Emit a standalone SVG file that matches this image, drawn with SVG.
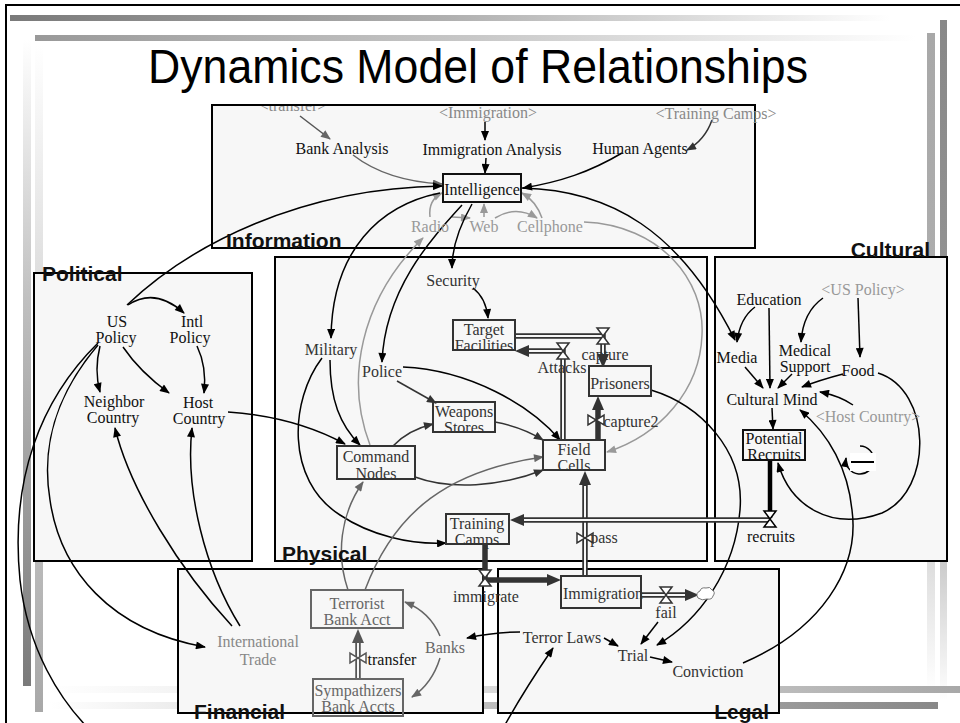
<svg xmlns="http://www.w3.org/2000/svg" width="960" height="723" viewBox="0 0 960 723">
<defs>
<style>
.sec{fill:#f7f7f7;stroke:#000;stroke-width:2}
.lab{font-family:"Liberation Sans",Arial,sans-serif;font-weight:bold;font-size:21px;fill:#111}
.t{font-family:"Liberation Serif","Times New Roman",serif;font-size:16px;text-anchor:middle;fill:#111}
.td{fill:#333}
.tg{fill:#888}
.tl{fill:#999}
.tm{fill:#666}
.box{fill:#f7f7f7;stroke:#111;stroke-width:2}
.boxd{fill:#f7f7f7;stroke:#333;stroke-width:2}
.boxg{fill:#f7f7f7;stroke:#666;stroke-width:2}
.c{fill:none;stroke:#000;stroke-width:1.5;marker-end:url(#ab)}
.cd{fill:none;stroke:#333;stroke-width:1.5;marker-end:url(#ad)}
.cg{fill:none;stroke:#666;stroke-width:1.5;marker-end:url(#ag)}
.cl{fill:none;stroke:#999;stroke-width:1.5;marker-end:url(#al)}
.po{fill:none;stroke:#333;stroke-width:5.5;stroke-linejoin:miter}
.pi{fill:none;stroke:#f7f7f7;stroke-width:2}
.valve{fill:#fff;stroke:#333;stroke-width:1.5;stroke-linejoin:miter}
</style>
<marker id="ab" viewBox="0 0 10 8" refX="9" refY="4" markerWidth="11" markerHeight="8" orient="auto" markerUnits="userSpaceOnUse"><path d="M0,0 L10,4 L0,8 z" fill="#000"/></marker>
<marker id="ad" viewBox="0 0 10 8" refX="9" refY="4" markerWidth="11" markerHeight="8" orient="auto" markerUnits="userSpaceOnUse"><path d="M0,0 L10,4 L0,8 z" fill="#333"/></marker>
<marker id="ag" viewBox="0 0 10 8" refX="9" refY="4" markerWidth="11" markerHeight="8" orient="auto" markerUnits="userSpaceOnUse"><path d="M0,0 L10,4 L0,8 z" fill="#666"/></marker>
<marker id="al" viewBox="0 0 10 8" refX="9" refY="4" markerWidth="11" markerHeight="8" orient="auto" markerUnits="userSpaceOnUse"><path d="M0,0 L10,4 L0,8 z" fill="#999"/></marker>
<marker id="ap" viewBox="0 0 14 12" refX="0" refY="6" markerWidth="14" markerHeight="12" orient="auto" markerUnits="userSpaceOnUse"><path d="M0,0 L14,6 L0,12 z" fill="#333"/></marker>
<marker id="apg" viewBox="0 0 14 12" refX="0" refY="6" markerWidth="14" markerHeight="12" orient="auto" markerUnits="userSpaceOnUse"><path d="M0,0 L14,6 L0,12 z" fill="#555"/></marker>
<linearGradient id="gTop1" x1="0" y1="0" x2="1" y2="0"><stop offset="0" stop-color="#7a7a7a"/><stop offset="0.5" stop-color="#b0b0b0"/><stop offset="1" stop-color="#fff"/></linearGradient>
<linearGradient id="gTop2" x1="0" y1="0" x2="1" y2="0"><stop offset="0" stop-color="#999"/><stop offset="0.5" stop-color="#c8c8c8"/><stop offset="1" stop-color="#fff"/></linearGradient>
<linearGradient id="gLeft1" x1="0" y1="0" x2="0" y2="1"><stop offset="0" stop-color="#fff"/><stop offset="0.4" stop-color="#c0c0c0"/><stop offset="1" stop-color="#7a7a7a"/></linearGradient>
<linearGradient id="gLeft2" x1="0" y1="0" x2="0" y2="1"><stop offset="0" stop-color="#fff"/><stop offset="0.5" stop-color="#d0d0d0"/><stop offset="1" stop-color="#a8a8a8"/></linearGradient>
<linearGradient id="gRight1" x1="0" y1="0" x2="0" y2="1"><stop offset="0" stop-color="#a8a8a8"/><stop offset="0.55" stop-color="#b0b0b0"/><stop offset="1" stop-color="#fff"/></linearGradient>
<linearGradient id="gRight2" x1="0" y1="0" x2="0" y2="1"><stop offset="0" stop-color="#888"/><stop offset="0.6" stop-color="#999"/><stop offset="1" stop-color="#fff"/></linearGradient>
<linearGradient id="gBot1" x1="0" y1="0" x2="1" y2="0"><stop offset="0" stop-color="#fff"/><stop offset="0.6" stop-color="#d0d0d0"/><stop offset="1" stop-color="#a8a8a8"/></linearGradient>
<linearGradient id="gBot2" x1="0" y1="0" x2="1" y2="0"><stop offset="0" stop-color="#fff"/><stop offset="0.6" stop-color="#b0b0b0"/><stop offset="1" stop-color="#888"/></linearGradient>
<clipPath id="clipInfo"><rect x="212" y="106" width="543" height="142"/></clipPath>
</defs>

<rect x="0" y="0" width="960" height="723" fill="#fff"/>

<!-- slide decoration -->
<g id="slide">
<rect x="10" y="15" width="880" height="6" fill="url(#gTop1)"/>
<rect x="35" y="35" width="880" height="6" fill="url(#gTop2)"/>
<rect x="23" y="40" width="8" height="646" fill="url(#gLeft1)"/>
<rect x="35" y="45" width="8" height="667" fill="url(#gLeft2)"/>
<rect x="927" y="33" width="8" height="657" fill="url(#gRight1)"/>
<rect x="940" y="20" width="7" height="680" fill="url(#gRight2)"/>
<rect x="47" y="686" width="913" height="7" fill="url(#gBot1)"/>
<rect x="50" y="702" width="888" height="7" fill="url(#gBot2)"/>
<path d="M6,723 L6,5 L960,5" fill="none" stroke="#000" stroke-width="2"/>
<text x="148" y="83" font-family="Liberation Sans,Arial,sans-serif" font-size="48" textLength="660" lengthAdjust="spacingAndGlyphs" fill="#000">Dynamics Model of Relationships</text>
</g>

<!-- sectors -->
<g id="sector-information"><rect class="sec" x="212" y="105" width="543" height="143"/></g>
<g id="sector-political"><rect class="sec" x="34" y="273" width="218" height="288"/></g>
<g id="sector-physical"><rect class="sec" x="275" y="257" width="432" height="304"/></g>
<g id="sector-cultural"><rect class="sec" x="715" y="257" width="232" height="304"/></g>
<g id="sector-financial"><rect class="sec" x="178" y="569" width="305" height="144"/></g>
<g id="sector-legal"><rect class="sec" x="498" y="569" width="281" height="144"/></g>

<!-- connectors -->
<g id="connectors">
<!-- information -->
<path class="cg" style="stroke:#555" d="M300,116 L330,139"/>
<path class="c" d="M485,122 L485,140"/>
<path class="c" d="M486,158 L485,173"/>
<path class="cg" d="M353,155 C375,172 405,182 442,184"/>
<path class="c" d="M622,153 C590,172 560,182 523,188"/>
<path class="cd" d="M712,120 Q705,140 687,150"/>
<path class="cl" d="M430,217 Q428,200 442,193"/>
<path class="cl" d="M484,217 L484,204"/>
<path class="cl" d="M542,218 Q536,201 522,193"/>
<path class="cl" d="M452,217 L470,218"/>
<path class="cl" d="M495,218 Q516,205 537,218"/>
<path class="cl" d="M584,222 C660,225 705,280 702,335 C700,390 660,435 607,452"/>
<path class="cl" d="M370,445 C345,380 360,300 423,238"/>
<path class="c" d="M440,193 C380,205 332,250 331,338"/>
<path class="c" d="M462,205 C430,240 385,290 382,362"/>
<path class="c" d="M472,204 C460,225 452,245 452,268"/>
<path class="c" d="M127,305 C190,245 300,188 442,186"/>
<path class="c" d="M522,188 C610,190 680,230 735,340"/>
<!-- physical -->
<path class="c" d="M473,288 Q486,298 488,318"/>
<path class="c" d="M330,360 C330,400 340,425 360,445"/>
<path class="c" d="M322,358 C290,400 285,480 340,515 C370,535 410,545 446,543"/>
<path class="cd" d="M397,381 L436,403"/>
<path class="c" d="M403,367 C470,370 530,405 560,440"/>
<path class="c" d="M228,412 C270,415 310,425 345,444"/>
<path class="cd" d="M393,446 Q408,430 433,424"/>
<path class="cd" d="M495,422 Q522,427 543,440"/>
<path class="cd" d="M415,477 C450,490 500,487 543,470"/>
<path class="cg" d="M365,590 C395,510 450,470 543,457"/>
<path class="cg" d="M348,590 C336,555 340,515 363,482"/>
<!-- cultural -->
<path class="c" d="M755,307 Q740,318 737,342"/>
<path class="c" d="M769,308 L770,388"/>
<path class="c" d="M823,298 Q803,312 801,342"/>
<path class="c" d="M858,298 L860,357"/>
<path class="c" d="M745,367 L763,388"/>
<path class="c" d="M792,374 L778,388"/>
<path class="c" d="M843,374 Q820,380 802,387"/>
<path class="c" d="M853,405 Q840,396 820,392"/>
<path class="c" d="M772,408 L773,429"/>
<path class="c" d="M878,373 C932,390 934,490 882,513 C830,532 790,505 778,463"/>
<path class="c" d="M743,663 C820,630 860,570 852,510 C848,470 830,435 800,410"/>
<path class="c" d="M651,390 C700,405 745,450 740,510 C735,570 700,620 657,645"/>
<!-- legal -->
<path class="c" d="M658,622 L641,644"/>
<path class="c" d="M604,638 L618,646"/>
<path class="c" d="M650,657 L672,662"/>
<path class="c" d="M520,632 Q495,632 467,638"/>
<!-- political / cross-sector -->
<path class="c" d="M98,343 C40,400 10,480 20,580 C28,650 60,700 90,730 C150,800 400,820 506,723 C520,698 538,670 553,648"/>
<path class="c" d="M98,345 C60,390 40,440 50,500 C60,570 110,630 205,647"/>
<path class="c" d="M232,626 C180,570 130,490 115,428"/>
<path class="c" d="M240,626 C205,570 185,490 192,428"/>
<path class="c" d="M128,305 Q155,287 184,313"/>
<path class="c" d="M100,346 Q94,370 100,392"/>
<path class="c" d="M123,347 Q140,372 169,393"/>
<path class="c" d="M197,346 Q207,367 204,393"/>
<!-- financial -->
<path class="cg" d="M440,636 Q430,612 405,602"/>
<path class="cg" d="M440,658 Q432,684 412,697"/>
</g>

<!-- flows -->
<g id="flows">
<g id="flow-capture">
<path class="po" d="M515,336 L603,336 L603,354" marker-end="url(#ap)"/>
<path class="pi" d="M515,336 L603,336 L603,354"/>
<path class="valve" d="M597,328 L609,328 L597,344 L609,344 Z"/>
<text class="t td" x="605" y="360">capture</text>
</g>
<g id="flow-attacks">
<path class="po" d="M563,440 L563,351 L529,351" marker-end="url(#ap)"/>
<path class="pi" d="M563,440 L563,351 L529,351"/>
<path class="valve" d="M557,343 L569,343 L557,359 L569,359 Z"/>
<text class="t td" x="562" y="373">Attacks</text>
</g>
<g id="flow-capture2">
<path class="po" d="M598,440 L598,410" marker-end="url(#ap)"/>
<path class="valve" d="M588,415 L588,425 L604,415 L604,425 Z"/>
<text class="t td" x="631" y="427">capture2</text>
</g>
<g id="flow-pass">
<path class="po" d="M585,576 L585,485" marker-end="url(#ap)"/>
<path class="pi" d="M585,576 L585,486"/>
<path class="valve" d="M577,533 L577,543 L593,533 L593,543 Z"/>
<text class="t td" x="604" y="543">pass</text>
</g>
<g id="flow-immigrate">
<path class="po" d="M485,544 L485,580 L547,580" marker-end="url(#ap)"/>
<path class="valve" d="M479,570 L491,570 L479,586 L491,586 Z"/>
<text class="t td" x="486" y="602">immigrate</text>
</g>
<g id="flow-recruits">
<path fill="none" stroke="#000" stroke-width="4.5" d="M770,460 L770,518"/>
<path class="po" d="M770,520 L524,520" marker-end="url(#ap)"/>
<path class="pi" d="M770,520 L524,520"/>
<path class="valve" style="stroke:#000" d="M764,511 L776,511 L764,527 L776,527 Z"/>
<text class="t" x="771" y="542">recruits</text>
</g>
<g id="flow-fail">
<path class="po" d="M641,595 L685,595" marker-end="url(#ap)"/>
<path class="pi" d="M641,595 L685,595"/>
<path class="valve" d="M660,587 L672,587 L660,603 L672,603 Z"/>
<path d="M698,598 q-3,-5 2,-7 q1,-4 6,-3 q4,-2 6,2 q4,2 1,6 q-1,4 -6,3 q-5,2 -9,-1 z" fill="#fff" stroke="#777" stroke-width="1"/>
<text class="t td" x="666" y="618">fail</text>
</g>
<g id="flow-transfer">
<path class="po" style="stroke:#555" d="M358,679 L358,643" marker-end="url(#apg)"/>
<path class="pi" d="M358,679 L358,643"/>
<path class="valve" style="stroke:#555" d="M350,653 L350,663 L366,653 L366,663 Z"/>
<text class="t" fill="#555" x="392" y="665">transfer</text>
</g>
</g>

<!-- nodes: information -->
<g id="ref-transfer"><text class="t tg" x="293" y="111" clip-path="url(#clipInfo)">&lt;transfer&gt;</text></g>
<g id="ref-immigration"><text class="t tg" x="488" y="118">&lt;Immigration&gt;</text></g>
<g id="ref-training-camps"><text class="t tg" x="716" y="119">&lt;Training Camps&gt;</text></g>
<g id="bank-analysis"><text class="t" fill="#777" x="342" y="154">Bank Analysis</text></g>
<g id="immigration-analysis"><text class="t" x="492" y="155">Immigration Analysis</text></g>
<g id="human-agents"><text class="t" x="640" y="154">Human Agents</text></g>
<g id="intelligence"><rect class="box" x="443" y="174" width="78" height="28"/><text class="t" x="482" y="195">Intelligence</text></g>
<g id="radio"><text class="t tl" x="430" y="232">Radio</text></g>
<g id="web"><text class="t tl" x="484" y="232">Web</text></g>
<g id="cellphone"><text class="t tl" x="550" y="232">Cellphone</text></g>

<!-- political -->
<g id="us-policy"><text class="t" x="117" y="327">US<tspan x="116" dy="16">Policy</tspan></text></g>
<g id="intl-policy"><text class="t" x="192" y="327">Intl<tspan x="190" dy="16">Policy</tspan></text></g>
<g id="neighbor-country"><text class="t" x="114" y="407">Neighbor<tspan x="113" dy="16">Country</tspan></text></g>
<g id="host-country"><text class="t" x="198" y="408">Host<tspan x="199" dy="16">Country</tspan></text></g>

<!-- physical -->
<g id="security"><text class="t td" x="453" y="286">Security</text></g>
<g id="military"><text class="t td" x="331" y="355">Military</text></g>
<g id="police"><text class="t td" x="382" y="377">Police</text></g>
<g id="target-facilities"><text class="t td" x="484" y="335">Target<tspan x="484" dy="16">Facilities</tspan></text><rect class="boxd" style="fill:none" x="453" y="320" width="62" height="30"/></g>
<g id="prisoners"><rect class="boxd" x="589" y="366" width="62" height="30"/><text class="t td" x="620" y="389">Prisoners</text></g>
<g id="weapons-stores"><text class="t td" x="464" y="417">Weapons<tspan x="464" dy="16">Stores</tspan></text><rect class="boxd" style="fill:none" x="433" y="402" width="62" height="30"/></g>
<g id="command-nodes"><text class="t td" x="376" y="462">Command<tspan x="376" dy="17">Nodes</tspan></text><rect class="boxd" style="fill:none" x="337" y="446" width="78" height="33"/></g>
<g id="field-cells"><text class="t td" x="574" y="455">Field<tspan x="574" dy="16">Cells</tspan></text><rect class="boxd" style="fill:none" x="543" y="440" width="62" height="30"/></g>
<g id="training-camps"><text class="t td" x="477" y="529">Training<tspan x="477" dy="16">Camps</tspan></text><rect class="boxd" style="fill:none" x="446" y="514" width="63" height="30"/></g>

<!-- cultural -->
<g id="education"><text class="t" x="769" y="305">Education</text></g>
<g id="ref-us-policy"><text class="t tl" x="863" y="295">&lt;US Policy&gt;</text></g>
<g id="media"><text class="t" x="737" y="363">Media</text></g>
<g id="medical-support"><text class="t" x="805" y="356">Medical<tspan x="805" dy="16">Support</tspan></text></g>
<g id="food"><text class="t" x="858" y="376">Food</text></g>
<g id="cultural-mind"><text class="t" x="772" y="405">Cultural Mind</text></g>
<g id="ref-host-country"><text class="t tl" x="868" y="422">&lt;Host Country&gt;</text></g>
<g id="potential-recruits"><text class="t" x="774" y="444">Potential<tspan x="774" dy="16">Recruits</tspan></text><rect class="box" style="fill:none" x="743" y="430" width="62" height="30"/></g>
<g id="loop-indicator">
<path d="M860,446 A14,14 0 1 1 846,458" fill="none" stroke="#000" stroke-width="1.5" marker-end="url(#ab)"/>
<rect x="850" y="453" width="26" height="18" fill="#fff"/>
<line x1="851" y1="462" x2="874" y2="462" stroke="#000" stroke-width="2"/>
</g>

<!-- financial -->
<g id="terrorist-bank-acct"><rect class="boxg" x="311" y="590" width="92" height="38"/><text class="t tm" x="357" y="609">Terrorist<tspan x="357" dy="16">Bank Acct</tspan></text></g>
<g id="sympathizers-bank-accts"><text class="t tm" x="358" y="696">Sympathizers<tspan x="358" dy="16">Bank Accts</tspan></text><rect class="boxg" style="fill:none" x="313" y="679" width="90" height="37"/></g>
<g id="banks"><text class="t tm" x="445" y="653">Banks</text></g>
<g id="international-trade"><text class="t tg" x="258" y="647">International<tspan x="258" dy="18">Trade</tspan></text></g>

<!-- legal -->
<g id="immigration"><rect class="boxd" x="561" y="576" width="80" height="32"/><text class="t td" x="603" y="599">Immigration</text></g>
<g id="terror-laws"><text class="t td" x="562" y="643">Terror Laws</text></g>
<g id="trial"><text class="t td" x="633" y="661">Trial</text></g>
<g id="conviction"><text class="t td" x="708" y="677">Conviction</text></g>

<!-- sector labels -->
<g id="labels">
<text class="lab" x="226" y="248">Information</text>
<text class="lab" x="42" y="281">Political</text>
<text class="lab" x="282" y="561">Physical</text>
<text class="lab" x="930" y="257" text-anchor="end">Cultural</text>
<text class="lab" x="194" y="719">Financial</text>
<text class="lab" x="769" y="719" text-anchor="end">Legal</text>
</g>
</svg>
